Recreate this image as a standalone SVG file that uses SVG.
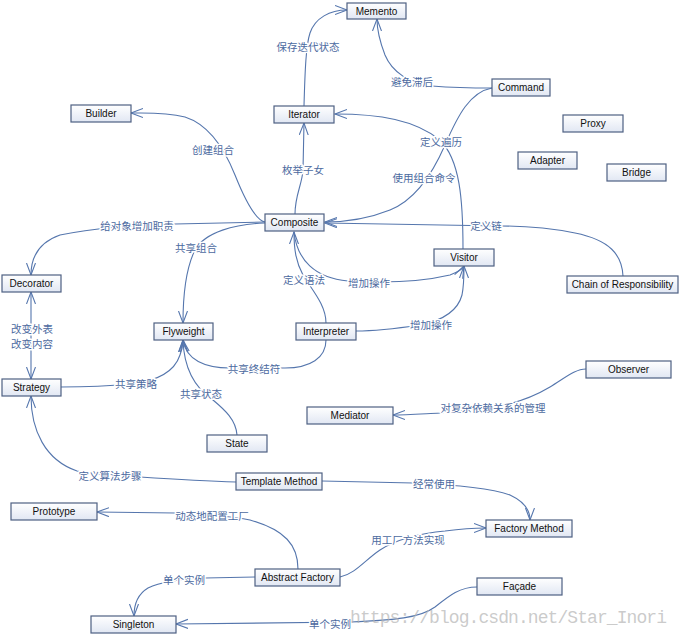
<svg xmlns="http://www.w3.org/2000/svg" width="680" height="637" viewBox="0 0 680 637">
<style>
.n rect{fill:url(#g);stroke:#4e6082;stroke-width:1.2}
.n text{font-family:"Liberation Sans",Arial,sans-serif;font-size:10px;fill:#111;text-anchor:middle;dominant-baseline:central}
.c path{fill:none;stroke:#5576ad;stroke-width:1.1}
.a{marker-end:url(#ar)}
.l text{font-family:"Noto Sans CJK SC",sans-serif;font-size:10.5px;fill:#4c6aa0;text-anchor:middle;dominant-baseline:central;stroke:#fff;stroke-width:3;paint-order:stroke;stroke-linejoin:round}
</style>
<defs>
<linearGradient id="g" x1="0" y1="0" x2="0" y2="1"><stop offset="0" stop-color="#ffffff"/><stop offset="1" stop-color="#e1e7f3"/></linearGradient>
<marker id="ar" markerUnits="userSpaceOnUse" markerWidth="14" markerHeight="12" refX="12" refY="5" orient="auto-start-reverse"><path d="M0,0.5 L12,5 L0,9.5" fill="none" stroke="#5576ad" stroke-width="1.1"/></marker>
</defs>
<rect width="680" height="637" fill="#fff"/>
<g class="c">
<path class="a" d="M304,106 C305,70 306,45 310,33 C315,18 330,10 347,10"/>
<path class="a" d="M492,88 C470,88 445,87 432,86 C410,84 392,72 385,55 C380,42 377,30 377,19"/>
<path class="a" d="M492,88 C470,92 458,115 445,145 C432,175 415,200 390,210 C370,218 345,222 325,222"/>
<path class="a" d="M463,249 C463,200 460,160 440,140 C415,120 380,114 335,114"/>
<path class="a" d="M295,214 C295,195 302,185 303,170 L304,123"/>
<path class="a" d="M265,222 C255,220 245,200 235,175 C225,150 210,125 185,117 C165,112 145,113 131,113"/>
<path class="a" d="M265,222 L175,224 C130,225 95,228 60,235 C40,242 31,255 31,275"/>
<path class="a" d="M265,223 C235,224 205,232 195,250 C186,268 183,295 183,323"/>
<path class="a" d="M326,323 C326,305 312,290 303,275 C296,262 294,250 294,232"/>
<path class="a" d="M294,232 C297,260 315,278 348,281 C380,283 420,282 450,275 C458,272 462,270 464,266"/>
<path class="a" d="M356,331 C380,331 400,328 420,325 C445,320 458,310 462,295 C464,285 464,275 464,266"/>
<path class="a" d="M623,276 C622,255 610,240 575,233 C550,228 520,226 500,226 L325,223"/>
<path class="a" d="M31,292 L31,379" marker-start="url(#ar)"/>
<path class="a" d="M61,387 C90,387 110,386 130,384 C160,381 175,370 180,355 C182,350 183,345 183,340"/>
<path class="a" d="M237,435 C236,420 225,410 213,400 C195,388 184,370 183,340"/>
<path class="a" d="M326,340 C326,358 310,368 285,368 L230,368 C205,368 186,360 183,340"/>
<path class="a" d="M586,369 C575,369 565,378 550,387 C535,396 520,402 500,406 L440,413 C420,414 405,415 393,415"/>
<path class="a" d="M236,482 C200,481 170,479 140,477 C110,475 90,474 77,471 C45,460 31,430 31,396"/>
<path class="a" d="M322,481 L413,483 C460,485 490,488 510,495 C525,502 530,510 530,520"/>
<path class="a" d="M298,569 C298,545 285,530 250,520 C235,517 200,514 175,513 L97,512"/>
<path class="a" d="M340,577 C355,574 365,560 380,550 C395,540 420,533 445,531 C460,529 475,528 486,528"/>
<path class="a" d="M255,577 L205,578 C180,579 160,582 148,588 C138,594 134,604 134,616"/>
<path class="a" d="M477,587 C460,587 450,595 435,607 C420,618 395,620 350,622 L176,624"/>
</g>
<g class="l">
<text x="308" y="46">保存迭代状态</text>
<text x="412" y="81">避免滞后</text>
<text x="424" y="177">使用组合命令</text>
<text x="441" y="141">定义遍历</text>
<text x="303" y="169">枚举子女</text>
<text x="213" y="149">创建组合</text>
<text x="137" y="225">给对象增加职责</text>
<text x="196" y="247">共享组合</text>
<text x="304" y="279">定义语法</text>
<text x="369" y="282">增加操作</text>
<text x="431" y="324">增加操作</text>
<text x="486" y="225">定义链</text>
<text x="32" y="328">改变外表</text>
<text x="32" y="343">改变内容</text>
<text x="136" y="383">共享策略</text>
<text x="201" y="393">共享状态</text>
<text x="254" y="368">共享终结符</text>
<text x="493" y="407">对复杂依赖关系的管理</text>
<text x="110" y="475">定义算法步骤</text>
<text x="434" y="483">经常使用</text>
<text x="212" y="515">动态地配置工厂</text>
<text x="408" y="539">用工厂方法实现</text>
<text x="184" y="579">单个实例</text>
<text x="330" y="623">单个实例</text>
</g>
<g id="memento" class="n"><rect x="347" y="3" width="59" height="16"/><text x="376.5" y="11">Memento</text></g>
<g id="command" class="n"><rect x="492" y="79" width="58" height="17"/><text x="521" y="87.5">Command</text></g>
<g id="iterator" class="n"><rect x="274" y="106" width="60" height="17"/><text x="304" y="114.5">Iterator</text></g>
<g id="builder" class="n"><rect x="71" y="105" width="60" height="17"/><text x="101" y="113.5">Builder</text></g>
<g id="proxy" class="n"><rect x="563" y="115" width="60" height="17"/><text x="593" y="123.5">Proxy</text></g>
<g id="adapter" class="n"><rect x="518" y="152" width="59" height="17"/><text x="547.5" y="160.5">Adapter</text></g>
<g id="bridge" class="n"><rect x="607" y="164" width="59" height="17"/><text x="636.5" y="172.5">Bridge</text></g>
<g id="composite" class="n"><rect x="265" y="214" width="59" height="17"/><text x="294.5" y="222.5">Composite</text></g>
<g id="visitor" class="n"><rect x="434" y="249" width="60" height="17"/><text x="464" y="257.5">Visitor</text></g>
<g id="decorator" class="n"><rect x="2" y="275" width="59" height="17"/><text x="31.5" y="283.5">Decorator</text></g>
<g id="chain" class="n"><rect x="567" y="276" width="111" height="17"/><text x="622.5" y="284.5">Chain of Responsibility</text></g>
<g id="flyweight" class="n"><rect x="154" y="323" width="59" height="17"/><text x="183.5" y="331.5">Flyweight</text></g>
<g id="interpreter" class="n"><rect x="296" y="323" width="60" height="17"/><text x="326" y="331.5">Interpreter</text></g>
<g id="observer" class="n"><rect x="586" y="361" width="85" height="17"/><text x="628.5" y="369.5">Observer</text></g>
<g id="strategy" class="n"><rect x="2" y="379" width="59" height="17"/><text x="31.5" y="387.5">Strategy</text></g>
<g id="mediator" class="n"><rect x="307" y="407" width="86" height="17"/><text x="350" y="415.5">Mediator</text></g>
<g id="state" class="n"><rect x="207" y="435" width="60" height="17"/><text x="237" y="443.5">State</text></g>
<g id="template" class="n"><rect x="236" y="473" width="86" height="17"/><text x="279" y="481.5">Template Method</text></g>
<g id="prototype" class="n"><rect x="11" y="503" width="86" height="17"/><text x="54" y="511.5">Prototype</text></g>
<g id="factorymethod" class="n"><rect x="486" y="520" width="86" height="17"/><text x="529" y="528.5">Factory Method</text></g>
<g id="abstractfactory" class="n"><rect x="255" y="569" width="85" height="17"/><text x="297.5" y="577.5">Abstract Factory</text></g>
<g id="facade" class="n"><rect x="477" y="578" width="85" height="17"/><text x="519.5" y="586.5">Façade</text></g>
<g id="singleton" class="n"><rect x="91" y="616" width="85" height="17"/><text x="133.5" y="624.5">Singleton</text></g>
<text x="350" y="623" textLength="317" lengthAdjust="spacing" font-family="Liberation Mono,monospace" font-size="18" fill="#b4b4b4" fill-opacity="0.7">https://blog.csdn.net/Star_Inori</text>
</svg>
